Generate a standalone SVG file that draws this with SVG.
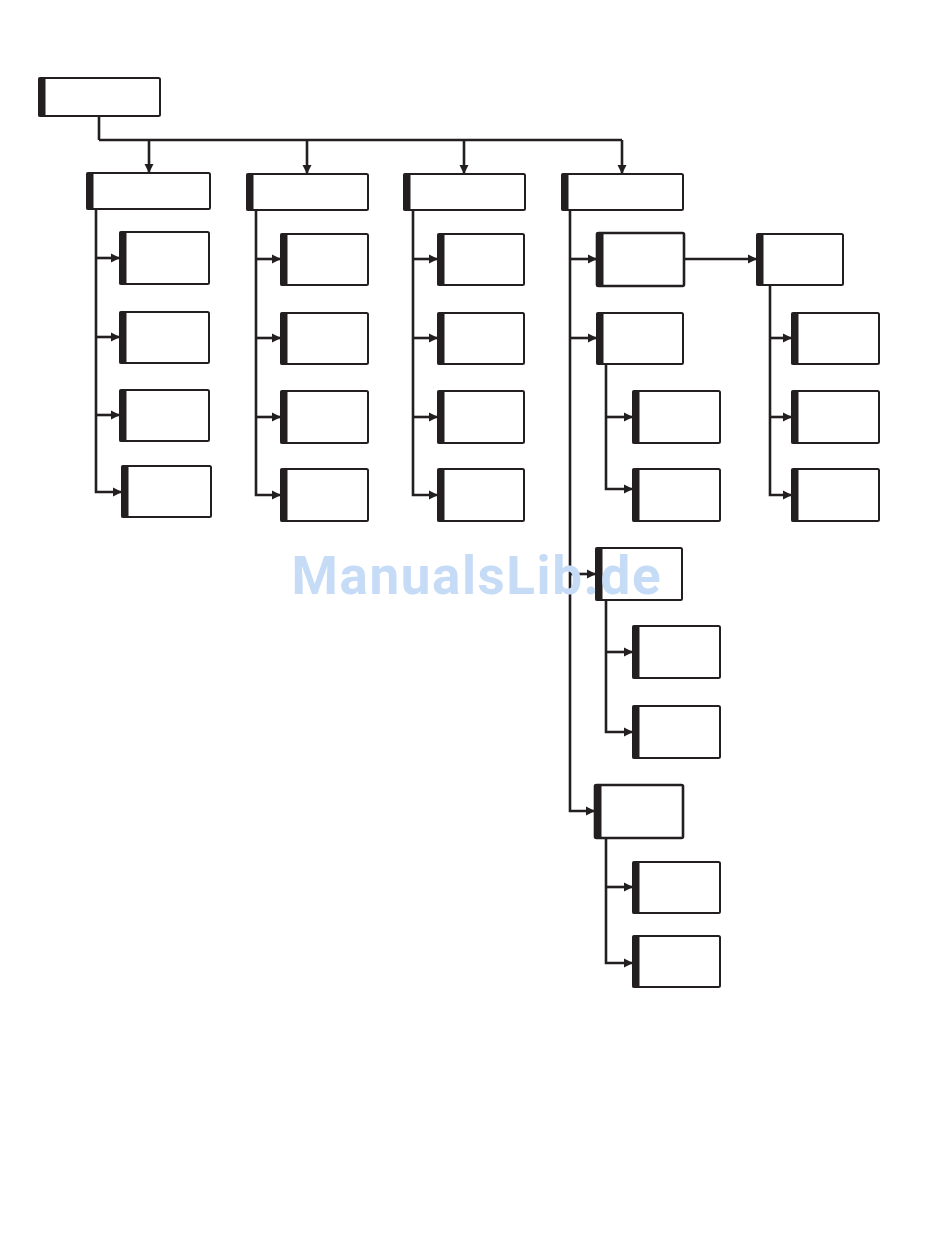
<svg xmlns="http://www.w3.org/2000/svg" width="950" height="1254" viewBox="0 0 950 1254">
<style>
.box{fill:#fff;stroke:#231f20;stroke-width:2}
.bar{fill:#231f20}
.c{fill:none;stroke:#231f20;stroke-width:2.6}
.wm{font-family:Roboto,"Liberation Sans",sans-serif;font-weight:bold;font-size:53px;fill:#c5dbf6}
</style>
<defs>
<marker id="ah" markerUnits="userSpaceOnUse" markerWidth="10" markerHeight="10" refX="9" refY="5" orient="auto" viewBox="0 0 10 10">
<path d="M0,0.5 L9,5 L0,9.5 z" fill="#231f20"/>
</marker>
</defs>
<rect width="950" height="1254" fill="#fff"/>
<g id="connectors">
<path class="c" d="M99,116 V140 M99,140 H622"/>
<path class="c" d="M149,140 V173" marker-end="url(#ah)"/>
<path class="c" d="M307,140 V174" marker-end="url(#ah)"/>
<path class="c" d="M464,140 V174" marker-end="url(#ah)"/>
<path class="c" d="M622,140 V174" marker-end="url(#ah)"/>
<!-- column A -->
<path class="c" d="M96,209 V492 H122" marker-end="url(#ah)"/>
<path class="c" d="M96,258 H120" marker-end="url(#ah)"/>
<path class="c" d="M96,337 H120" marker-end="url(#ah)"/>
<path class="c" d="M96,415 H120" marker-end="url(#ah)"/>
<!-- column B -->
<path class="c" d="M256,210 V495 H281" marker-end="url(#ah)"/>
<path class="c" d="M256,259 H281" marker-end="url(#ah)"/>
<path class="c" d="M256,338 H281" marker-end="url(#ah)"/>
<path class="c" d="M256,417 H281" marker-end="url(#ah)"/>
<!-- column C -->
<path class="c" d="M413,210 V495 H438" marker-end="url(#ah)"/>
<path class="c" d="M413,259 H438" marker-end="url(#ah)"/>
<path class="c" d="M413,338 H438" marker-end="url(#ah)"/>
<path class="c" d="M413,417 H438" marker-end="url(#ah)"/>
<!-- column D -->
<path class="c" d="M570,210 V811 H595" marker-end="url(#ah)"/>
<path class="c" d="M570,259 H597" marker-end="url(#ah)"/>
<path class="c" d="M570,338 H597" marker-end="url(#ah)"/>
<path class="c" d="M570,574 H596" marker-end="url(#ah)"/>
<path class="c" d="M684,259 H757" marker-end="url(#ah)"/>
<!-- E children -->
<path class="c" d="M770,285 V495 H792" marker-end="url(#ah)"/>
<path class="c" d="M770,338 H792" marker-end="url(#ah)"/>
<path class="c" d="M770,417 H792" marker-end="url(#ah)"/>
<!-- D2 children -->
<path class="c" d="M606,364 V489 H633" marker-end="url(#ah)"/>
<path class="c" d="M606,417 H633" marker-end="url(#ah)"/>
<!-- D3 children -->
<path class="c" d="M606,600 V732 H633" marker-end="url(#ah)"/>
<path class="c" d="M606,652 H633" marker-end="url(#ah)"/>
<!-- D4 children -->
<path class="c" d="M606,838 V963 H633" marker-end="url(#ah)"/>
<path class="c" d="M606,887 H633" marker-end="url(#ah)"/>
</g>
<g id="root"><rect class="box" x="39" y="78" width="121" height="38" rx="1.5"/><rect class="bar" x="38.5" y="77.5" width="7" height="39"/></g>
<g id="A"><rect class="box" x="87" y="173" width="123" height="36" rx="1.5"/><rect class="bar" x="86.5" y="172.5" width="7" height="37"/></g>
<g id="B"><rect class="box" x="247" y="174" width="121" height="36" rx="1.5"/><rect class="bar" x="246.5" y="173.5" width="7" height="37"/></g>
<g id="C"><rect class="box" x="404" y="174" width="121" height="36" rx="1.5"/><rect class="bar" x="403.5" y="173.5" width="7" height="37"/></g>
<g id="D"><rect class="box" x="562" y="174" width="121" height="36" rx="1.5"/><rect class="bar" x="561.5" y="173.5" width="7" height="37"/></g>
<g id="A1"><rect class="box" x="120" y="232" width="89" height="52" rx="1.5"/><rect class="bar" x="119.5" y="231.5" width="7" height="53"/></g>
<g id="A2"><rect class="box" x="120" y="312" width="89" height="51" rx="1.5"/><rect class="bar" x="119.5" y="311.5" width="7" height="52"/></g>
<g id="A3"><rect class="box" x="120" y="390" width="89" height="51" rx="1.5"/><rect class="bar" x="119.5" y="389.5" width="7" height="52"/></g>
<g id="A4"><rect class="box" x="122" y="466" width="89" height="51" rx="1.5"/><rect class="bar" x="121.5" y="465.5" width="7" height="52"/></g>
<g id="B1"><rect class="box" x="281" y="234" width="87" height="51" rx="1.5"/><rect class="bar" x="280.5" y="233.5" width="7" height="52"/></g>
<g id="B2"><rect class="box" x="281" y="313" width="87" height="51" rx="1.5"/><rect class="bar" x="280.5" y="312.5" width="7" height="52"/></g>
<g id="B3"><rect class="box" x="281" y="391" width="87" height="52" rx="1.5"/><rect class="bar" x="280.5" y="390.5" width="7" height="53"/></g>
<g id="B4"><rect class="box" x="281" y="469" width="87" height="52" rx="1.5"/><rect class="bar" x="280.5" y="468.5" width="7" height="53"/></g>
<g id="C1"><rect class="box" x="438" y="234" width="86" height="51" rx="1.5"/><rect class="bar" x="437.5" y="233.5" width="7" height="52"/></g>
<g id="C2"><rect class="box" x="438" y="313" width="86" height="51" rx="1.5"/><rect class="bar" x="437.5" y="312.5" width="7" height="52"/></g>
<g id="C3"><rect class="box" x="438" y="391" width="86" height="52" rx="1.5"/><rect class="bar" x="437.5" y="390.5" width="7" height="53"/></g>
<g id="C4"><rect class="box" x="438" y="469" width="86" height="52" rx="1.5"/><rect class="bar" x="437.5" y="468.5" width="7" height="53"/></g>
<g id="D1"><rect class="box" x="597" y="233" width="87" height="53" rx="1.5" style="stroke-width:2.6"/><rect class="bar" x="596.5" y="232.5" width="7" height="54"/></g>
<g id="D2"><rect class="box" x="597" y="313" width="86" height="51" rx="1.5"/><rect class="bar" x="596.5" y="312.5" width="7" height="52"/></g>
<g id="D3"><rect class="box" x="596" y="548" width="86" height="52" rx="1.5"/><rect class="bar" x="595.5" y="547.5" width="7" height="53"/></g>
<g id="D4"><rect class="box" x="595" y="785" width="88" height="53" rx="1.5" style="stroke-width:2.6"/><rect class="bar" x="594.5" y="784.5" width="7" height="54"/></g>
<g id="E"><rect class="box" x="757" y="234" width="86" height="51" rx="1.5"/><rect class="bar" x="756.5" y="233.5" width="7" height="52"/></g>
<g id="E1"><rect class="box" x="792" y="313" width="87" height="51" rx="1.5"/><rect class="bar" x="791.5" y="312.5" width="7" height="52"/></g>
<g id="E2"><rect class="box" x="792" y="391" width="87" height="52" rx="1.5"/><rect class="bar" x="791.5" y="390.5" width="7" height="53"/></g>
<g id="E3"><rect class="box" x="792" y="469" width="87" height="52" rx="1.5"/><rect class="bar" x="791.5" y="468.5" width="7" height="53"/></g>
<g id="D21"><rect class="box" x="633" y="391" width="87" height="52" rx="1.5"/><rect class="bar" x="632.5" y="390.5" width="7" height="53"/></g>
<g id="D22"><rect class="box" x="633" y="469" width="87" height="52" rx="1.5"/><rect class="bar" x="632.5" y="468.5" width="7" height="53"/></g>
<g id="D31"><rect class="box" x="633" y="626" width="87" height="52" rx="1.5"/><rect class="bar" x="632.5" y="625.5" width="7" height="53"/></g>
<g id="D32"><rect class="box" x="633" y="706" width="87" height="52" rx="1.5"/><rect class="bar" x="632.5" y="705.5" width="7" height="53"/></g>
<g id="D41"><rect class="box" x="633" y="862" width="87" height="51" rx="1.5"/><rect class="bar" x="632.5" y="861.5" width="7" height="52"/></g>
<g id="D42"><rect class="box" x="633" y="936" width="87" height="51" rx="1.5"/><rect class="bar" x="632.5" y="935.5" width="7" height="52"/></g>
<text class="wm" x="476" y="594" text-anchor="middle" textLength="369">ManualsLib.de</text>
</svg>
